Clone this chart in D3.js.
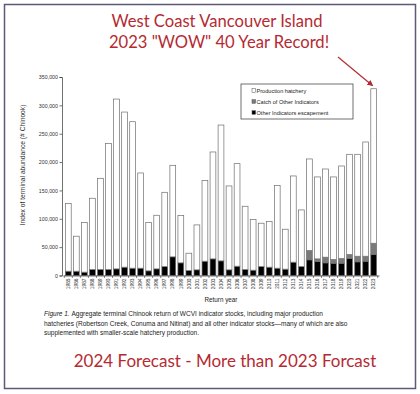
<!DOCTYPE html>
<html>
<head>
<meta charset="utf-8">
<script src="https://cdn.jsdelivr.net/npm/d3@7"></script>
<style>
  body { margin: 0; background: #fff; }
  svg text { font-family: "Liberation Sans", Arial, sans-serif; }
</style>
</head>
<body>
<div id="chart"></div>
<script>
// return years
const years = d3.range(1985, 2024).map(String);

// other indicators escapement (black)
const escapement = [7600, 7600, 5900, 10600, 10600, 10600, 11700, 14700, 12900, 12900,
  8200, 11700, 15800, 32900, 22300, 8800, 10000, 25200, 29300, 25800,
  10000, 16400, 10600, 9400, 15800, 14700, 12900, 11200, 23500, 15800,
  27600, 24700, 22300, 21700, 21700, 29900, 24100, 25200, 37000];

// catch of other indicators (grey)
const catchOther = [0, 0, 0, 0, 0, 0, 0, 0, 0, 0,
  0, 0, 0, 0, 0, 0, 0, 0, 0, 0,
  0, 0, 0, 0, 0, 0, 0, 0, 0, 0,
  16400, 4600, 10000, 6500, 8200, 7100, 9900, 8800, 19900];

// bar totals
const totals = [126800, 69300, 93300, 136200, 171400, 232500, 311100, 288200, 271200, 180800,
  93300, 106200, 146700, 194300, 105700, 39300, 89200, 167300, 217800, 265300,
  157900, 197200, 122100, 98600, 92200, 95100, 158500, 81600, 175500, 115600,
  205500, 173800, 187800, 173800, 193100, 213700, 213700, 235400, 329300];

const yTicks = [0, 50000, 100000, 150000, 200000, 250000, 300000, 350000];

const keys = ["esc", "catch", "hatch"];
const legendLabels = ["Production hatchery", "Catch of Other Indicators", "Other Indicators escapement"];
const fills = { esc: "#000", catch: "#7a7a7a", hatch: "#fff" };

const rows = years.map((y, i) => ({
  year: y,
  esc: escapement[i],
  catch: catchOther[i],
  hatch: totals[i] - escapement[i] - catchOther[i]
}));

const width = 420, height = 394;
const red = "#b52a32";

const svg = d3.select("#chart").append("svg")
  .attr("width", width)
  .attr("height", height);

// frame
svg.append("rect")
  .attr("x", 4.5).attr("y", 4.5)
  .attr("width", 411).attr("height", 384)
  .attr("fill", "#fff")
  .attr("stroke", "#5d5a78")
  .attr("stroke-width", 1.5);

// red headline
const head = svg.append("text")
  .attr("x", 217).attr("y", 27)
  .attr("text-anchor", "middle")
  .attr("fill", red)
  .style("font-family", "Lato, 'Open Sans', sans-serif")
  .style("font-size", "16.6px");
head.append("tspan").attr("x", 217).text("West Coast Vancouver Island");
head.append("tspan").attr("x", 219).attr("dy", 21).text('2023 "WOW" 40 Year Record!');

let x = d3.scaleBand()
  .domain(years)
  .range([63, 379])
  .paddingInner(0.28)
  .paddingOuter(0.3);

let y = d3.scaleLinear()
  .domain([0, 350000])
  .range([275.5, 77]);

const stack = d3.stack().keys(keys)(rows);

svg.append("g")
  .selectAll("g")
  .data(stack)
  .join("g")
  .attr("fill", d => fills[d.key])
  .selectAll("rect")
  .data(d => d.filter(p => p[1] > p[0]))
  .join("rect")
  .attr("x", d => x(d.data.year))
  .attr("width", x.bandwidth())
  .attr("y", d => y(d[1]))
  .attr("height", d => y(d[0]) - y(d[1]))
  .attr("stroke", "#6e6e6e")
  .attr("stroke-width", 0.7);

// axes
let yAxis = d3.axisLeft(y)
  .tickValues(yTicks)
  .tickSize(2.5)
  .tickFormat(d3.format(","));

let xAxis = d3.axisBottom(x)
  .tickSize(0);

const gy = svg.append("g")
  .attr("transform", "translate(62,0)")
  .call(yAxis);
gy.select(".domain").attr("stroke", "#333").attr("stroke-width", 0.7);
gy.selectAll(".tick line").attr("stroke", "#333").attr("stroke-width", 0.7);
gy.selectAll(".tick text")
  .attr("x", -4)
  .attr("fill", "#333")
  .style("font-size", "5.3px");

const gx = svg.append("g")
  .attr("transform", "translate(0,275.5)")
  .call(xAxis);
gx.select(".domain").attr("stroke", "#333").attr("stroke-width", 0.7);
gx.selectAll(".tick text")
  .attr("transform", "rotate(-90)")
  .attr("x", -3)
  .attr("y", 0)
  .attr("dy", "0.35em")
  .attr("text-anchor", "end")
  .attr("fill", "#333")
  .style("font-size", "4.8px");

// small ticks between bars
svg.append("g")
  .selectAll("line")
  .data(years.concat(["end"]))
  .join("line")
  .attr("x1", (d, i) => x.range()[0] + x.step() * x.paddingOuter() - x.step() * x.paddingInner() / 2 + i * x.step())
  .attr("x2", (d, i) => x.range()[0] + x.step() * x.paddingOuter() - x.step() * x.paddingInner() / 2 + i * x.step())
  .attr("y1", 275.5).attr("y2", 278)
  .attr("stroke", "#333")
  .attr("stroke-width", 0.6);

// axis titles
svg.append("text")
  .attr("transform", "translate(25,165) rotate(-90)")
  .attr("text-anchor", "middle")
  .attr("fill", "#333")
  .style("font-size", "6.7px")
  .text("Index of terminal abundance (# Chinook)");

svg.append("text")
  .attr("x", 221).attr("y", 302)
  .attr("text-anchor", "middle")
  .attr("fill", "#222")
  .style("font-size", "6.3px")
  .text("Return year");

// legend
const legend = svg.append("g").attr("transform", "translate(241,84)");
legend.append("rect")
  .attr("width", 112).attr("height", 35)
  .attr("fill", "#fff")
  .attr("stroke", "#333")
  .attr("stroke-width", 0.7);
const legendKeys = ["hatch", "catch", "esc"];
legendLabels.forEach((lab, i) => {
  const ly = 7 + i * 11;
  legend.append("rect")
    .attr("x", 11).attr("y", ly - 2.3)
    .attr("width", 3.6).attr("height", 3.6)
    .attr("fill", fills[legendKeys[i]])
    .attr("stroke", "#555")
    .attr("stroke-width", 0.5);
  legend.append("text")
    .attr("x", 15.5).attr("y", ly)
    .attr("dy", "0.35em")
    .attr("fill", "#222")
    .style("font-size", "5.6px")
    .text(lab);
});

// arrow to 2023
svg.append("defs").append("marker")
  .attr("id", "head")
  .attr("viewBox", "0 0 10 10")
  .attr("refX", 9).attr("refY", 5)
  .attr("markerWidth", 5).attr("markerHeight", 5)
  .attr("orient", "auto")
  .append("path")
  .attr("d", "M0,0L10,5L0,10z")
  .attr("fill", red);
svg.append("line")
  .attr("x1", 338).attr("y1", 57)
  .attr("x2", x("2023") + x.bandwidth() / 2 - 1).attr("y2", y(totals[38]) - 3)
  .attr("stroke", red)
  .attr("stroke-width", 1.2)
  .attr("marker-end", "url(#head)");

// caption
const cap = svg.append("text")
  .attr("x", 44).attr("y", 316)
  .attr("fill", "#222")
  .style("font-size", "6.5px");
cap.append("tspan").style("font-style", "italic").text("Figure 1. ");
cap.append("tspan").text("Aggregate terminal Chinook return of WCVI indicator stocks, including major production");
cap.append("tspan").attr("x", 44).attr("dy", 9.5)
  .text("hatcheries (Robertson Creek, Conuma and Nitinat) and all other indicator stocks\u2014many of which are also");
cap.append("tspan").attr("x", 44).attr("dy", 9.5)
  .text("supplemented with smaller-scale hatchery production.");

// bottom red line
svg.append("text")
  .attr("x", 225).attr("y", 367)
  .attr("text-anchor", "middle")
  .attr("fill", red)
  .style("font-family", "Lato, 'Open Sans', sans-serif")
  .style("font-size", "17px")
  .text("2024 Forecast - More than 2023 Forcast");
</script>
</body>
</html>
